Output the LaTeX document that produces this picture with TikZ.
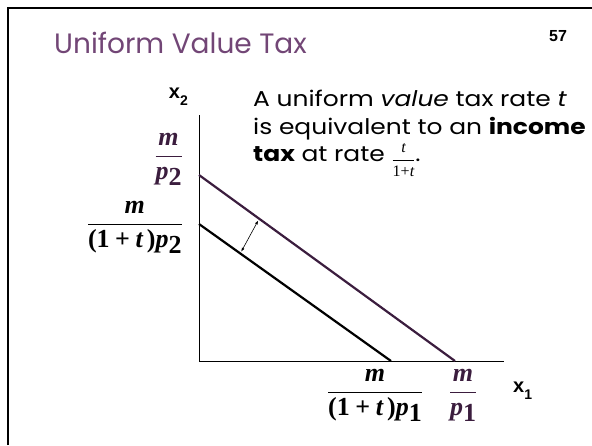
\documentclass[tikz,border=0pt]{standalone}
\usepackage{fontspec}
\setmainfont{Poppins}
\newfontfamily\widesans[FakeStretch=1.16]{Poppins}
\newfontfamily\serifm{Liberation Serif}
\newfontfamily\arialf{Liberation Sans}
\usetikzlibrary{arrows.meta, positioning, calc}
\definecolor{tplum}{HTML}{724676}
\definecolor{tdark}{HTML}{3B1D3E}
\newcommand{\bi}[1]{\mbox{\serifm\bfseries\itshape #1}}
\newcommand{\bu}[1]{\mbox{\serifm\bfseries #1}}
\newcommand{\sbx}[1]{\raisebox{-0.42ex}{\serifm\bfseries #1}}
\newcommand{\axsub}[1]{\raisebox{-7pt}{\fontsize{14}{15}\selectfont #1}}
\newcommand{\ratefrac}{\raisebox{-0.25ex}{\fontsize{16}{16}\selectfont$\displaystyle\frac{\mbox{\serifm\itshape t}}{\mbox{\serifm 1+\itshape t}}$}}
\tikzset{
  x=1pt, y=-1pt,
  frameline/.style={line width=2pt, draw=black},
  axisline/.style={line width=0.8pt, draw=black},
  budget/.style={line width=2.2pt, draw=#1},
  budget/.default=black,
  shiftarr/.style={{Latex[length=4pt,width=3pt]}-{Latex[length=4pt,width=3pt]}, line width=0.6pt},
  frac/.style={text=#1, font=\fontsize{26}{30}\selectfont, inner sep=0pt},
  frac/.default=black,
  axlab/.style={font=\arialf\bfseries\fontsize{20}{22}\selectfont, inner sep=0pt}
}
\begin{document}
\begin{tikzpicture}
  \useasboundingbox (0,0) rectangle (592,445);
  % slide frame
  \draw[frameline] (8,445) -- (8,8) -- (592,8);
  \node[anchor=base west, text=tplum, font=\fontsize{28}{30}\selectfont, inner sep=0pt] (title) at (54,53) {Uniform Value Tax};
  \node[font=\arialf\bfseries\fontsize{16}{18}\selectfont, inner sep=0pt] (pagenum) at (558,36) {57};
  % axes
  \coordinate (origin) at (199,361);
  \coordinate (ytop) at (199,115);
  \coordinate (xend) at (504,361);
  \draw[axisline] (ytop) -- (origin) -- (xend);
  \node[axlab, anchor=base east] (xtwo) at (188,98) {x\axsub{2}};
  \node[axlab, anchor=base west] (xone) at (513,392) {x\axsub{1}};
  % budget lines
  \coordinate (notax2) at (199,175);
  \coordinate (notax1) at (455,361);
  \coordinate (tax2) at (199,224);
  \coordinate (tax1) at (391,361);
  \draw[budget=tdark] (notax2) -- (notax1);
  \draw[budget] (tax2) -- (tax1);
  \path (tax2) -- (tax1) coordinate[pos=0.215] (lowpt);
  \path (notax2) -- (notax1) coordinate[pos=0.235] (highpt);
  \draw[shiftarr] ($(lowpt)!2pt!(highpt)$) -- ($(highpt)!2pt!(lowpt)$);
  % intercepts
  \node[frac=tdark, anchor=east] (mp2) at (183,159) {$\displaystyle\frac{\bi{m}}{\bi{p}\sbx{2}}$};
  \node[frac, anchor=east] (mtp2) at (183,227) {$\displaystyle\frac{\bi{m}}{\bu{(1}\mathbin{\bu{+}}\bi{t}\,\bu{)}\bi{p}\sbx{2}}$};
  \node[frac] (mtp1) at (375,395) {$\displaystyle\frac{\bi{m}}{\bu{(1}\mathbin{\bu{+}}\bi{t}\,\bu{)}\bi{p}\sbx{1}}$};
  \node[frac=tdark] (mp1) at (463,395) {$\displaystyle\frac{\bi{m}}{\bi{p}\sbx{1}}$};
  % statement
  \node[anchor=north west, align=left, inner sep=0pt, font=\widesans\fontsize{21.5}{27.5}\selectfont] (claim) at (253,90)
    {A uniform \textit{value} tax rate \textit{t}\\
     is equivalent to an \textbf{income}\\
     \textbf{tax} at rate \ratefrac.};
\end{tikzpicture}
\end{document}
